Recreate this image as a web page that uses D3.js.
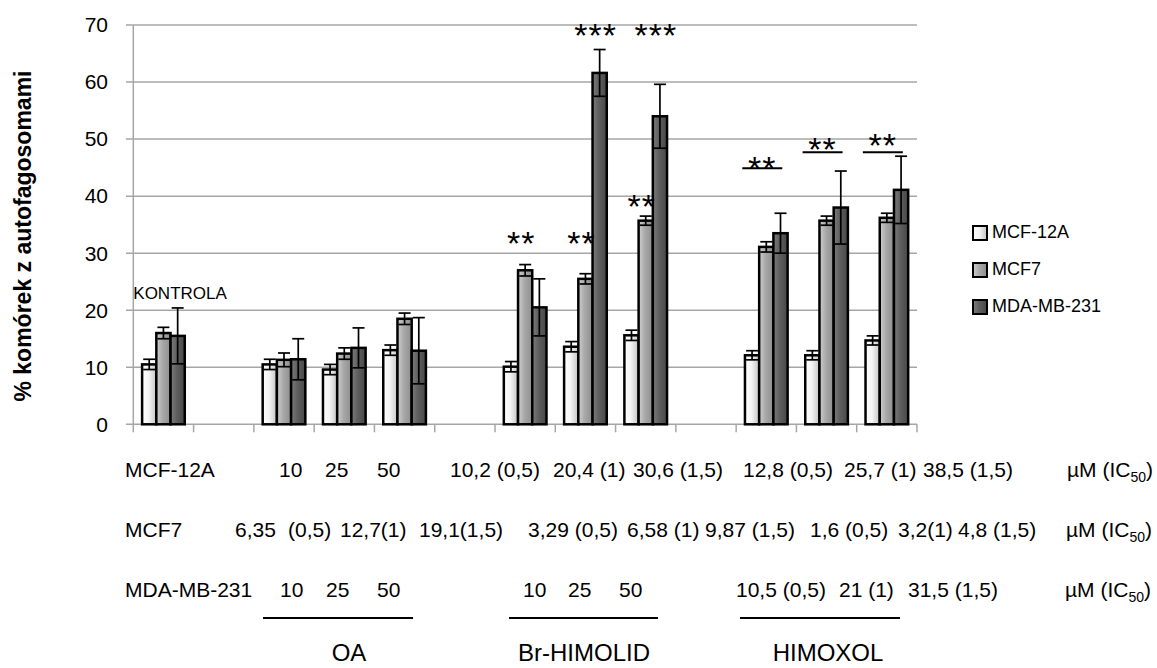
<!DOCTYPE html>
<meta charset="utf-8">
<style>
  body { margin: 0; background: #fff; }
  svg text { font-family: "Liberation Sans", Arial, sans-serif; fill: #000; }
  .grid line { stroke: #a6a6a6; stroke-width: 1.5px; }
  .axis line { stroke: #a6a6a6; stroke-width: 1.5px; }
  .bar { stroke: #000; stroke-width: 2.5px; }
  .err line { stroke: #000; stroke-width: 1.7px; }
  .sig { font-size: 34px; letter-spacing: 1px; }
  .tbl { font-size: 21px; }
</style>
<svg width="1157" height="668"></svg>
<script src="https://cdn.jsdelivr.net/npm/d3@7"></script>
<script>
  // categories along x: control, gap, OA doses, gap, Br-HIMOLID doses, gap, HIMOXOL doses
  var categories = ["K", "g1", "OA10", "OA25", "OA50", "g2", "Br05", "Br1", "Br15", "g3", "HX05", "HX1", "HX15"]
  var series = ["MCF-12A", "MCF7", "MDA-MB-231"]

  var mcf12a = [10.5, null, 10.5, 9.6, 13.0, null, 10.1, 13.6, 15.6, null, 12.1, 12.1, 14.7]
  var mcf12aErr = [0.9, null, 0.9, 0.9, 0.9, null, 0.9, 0.9, 0.9, null, 0.8, 0.8, 0.8]
  var mcf7 = [16.0, null, 11.3, 12.4, 18.5, null, 27.0, 25.5, 35.7, null, 31.1, 35.7, 36.2]
  var mcf7Err = [1.0, null, 1.2, 1.0, 1.0, null, 1.0, 0.9, 0.8, null, 0.9, 0.8, 0.8]
  var mda = [15.5, null, 11.4, 13.4, 12.9, null, 20.5, 61.6, 54.0, null, 33.5, 38.0, 41.1]
  var mdaErr = [4.9, null, 3.6, 3.5, 5.8, null, 5.0, 4.1, 5.6, null, 3.5, 6.4, 5.9]

  var yTicks = [0, 10, 20, 30, 40, 50, 60, 70]

  // significance marks
  var sigCat = ["Br05", "Br1", "Br1", "Br15", "Br15", "HX05", "HX1", "HX15"]
  var sigSeries = ["MCF7", "MCF7", "MDA-MB-231", "MCF7", "MDA-MB-231", null, null, null]
  var sigText = ["**", "**", "***", "**", "***", "**", "**", "**"]
  var sigLevel = [33.1, 33.1, 69.5, 39.5, 69.5, 46.2, 49.5, 50.2]
  var sigBar = [null, null, null, null, null, 44.9, 47.7, 47.7]

  // dose table under the chart
  var rowNames = ["MCF-12A", "MCF7", "MDA-MB-231"]
  var dosesMcf12a = ["10", "25", "50", "10,2 (0,5)", "20,4 (1)", "30,6 (1,5)", "12,8 (0,5)", "25,7 (1)", "38,5 (1,5)"]
  var dosesMcf7 = ["6,35", "(0,5)", "12,7(1)", "19,1(1,5)", "3,29 (0,5)", "6,58 (1)", "9,87 (1,5)", "1,6 (0,5)", "3,2(1)", "4,8 (1,5)"]
  var dosesMda = ["10", "25", "50", "10", "25", "50", "10,5 (0,5)", "21 (1)", "31,5 (1,5)"]
  var compounds = ["OA", "Br-HIMOLID", "HIMOXOL"]

  // table layout
  var rowY = [477, 537, 597]
  var xMcf12a = [279, 325, 377, 450, 553, 633, 743, 844, 923]
  var xMcf7 = [235, 288, 340, 419, 528, 627, 705, 810, 898, 958]
  var xMda = [280, 326, 377, 523, 568, 619, 736, 839, 908]
  var unitX = [1067, 1066, 1065]
  var compLine = [[263, 413], [509, 658], [740, 900]]
  var compX = [349, 584, 828]

  var svg = d3.select("svg")
  var defs = svg.append("defs")
  var fills = {
    "MCF-12A": ["#ffffff", "#f4f4f4", "#c4c4c4"],
    "MCF7": ["#cfcfcf", "#a8a8a8", "#8e8e8e"],
    "MDA-MB-231": ["#7c7c7c", "#5e5e5e", "#484848"]
  }
  series.forEach((s, i) => {
    var g = defs.append("linearGradient").attr("id", "grad" + i)
      .attr("x1", 0).attr("x2", 1).attr("y1", 0).attr("y2", 0)
    g.append("stop").attr("offset", "0%").attr("stop-color", fills[s][0])
    g.append("stop").attr("offset", "45%").attr("stop-color", fills[s][1])
    g.append("stop").attr("offset", "100%").attr("stop-color", fills[s][2])
  })

  var x = d3.scaleBand().domain(categories).range([133.3, 917])
  var xs = d3.scaleBand().domain(series).range([0, x.bandwidth()]).paddingOuter(0.62)
  var y = d3.scaleLinear().domain([0, 70]).range([424.3, 25])
  var color = d3.scaleOrdinal().domain(series).range(series.map((s, i) => "url(#grad" + i + ")"))

  // gridlines
  svg.append("g").attr("class", "grid")
    .selectAll("line").data(yTicks).enter().append("line")
    .attr("x1", 126).attr("x2", 917)
    .attr("y1", d => y(d)).attr("y2", d => y(d))

  // axes
  var ax = svg.append("g").attr("class", "axis")
  ax.append("line").attr("x1", 133.3).attr("x2", 133.3).attr("y1", y(70)).attr("y2", y(0) + 8)
  ax.selectAll(".xt").data(categories).enter().append("line")
    .attr("x1", d => x(d) + x.bandwidth()).attr("x2", d => x(d) + x.bandwidth())
    .attr("y1", y(0)).attr("y2", y(0) + 8)

  svg.append("g").selectAll("text").data(yTicks).enter().append("text")
    .attr("x", 108).attr("y", d => y(d)).attr("dy", "0.35em")
    .attr("text-anchor", "end").style("font-size", "21px")
    .text(d => d)

  svg.append("text")
    .attr("transform", "translate(23,236) rotate(-90)")
    .attr("text-anchor", "middle").attr("dy", "0.35em")
    .style("font-size", "23px").style("font-weight", "bold")
    .text("% komórek z autofagosomami")

  // bars
  var vals = [mcf12a, mcf7, mda]
  var errs = [mcf12aErr, mcf7Err, mdaErr]
  var rows = []
  categories.forEach((c, i) => series.forEach((s, j) => {
    if (vals[j][i] != null) rows.push({ c: c, s: s, v: vals[j][i], e: errs[j][i] })
  }))

  svg.append("g").selectAll("rect").data(rows).enter().append("rect")
    .attr("class", "bar")
    .attr("x", d => x(d.c) + xs(d.s))
    .attr("width", xs.bandwidth())
    .attr("y", d => y(d.v))
    .attr("height", d => y(0) - y(d.v))
    .style("fill", d => color(d.s))

  var err = svg.append("g").attr("class", "err").selectAll("g").data(rows).enter().append("g")
    .attr("transform", d => "translate(" + (x(d.c) + xs(d.s) + xs.bandwidth() / 2) + ",0)")
  err.append("line").attr("y1", d => y(d.v - d.e)).attr("y2", d => y(d.v + d.e))
  err.append("line").attr("x1", -6).attr("x2", 6).attr("y1", d => y(d.v + d.e)).attr("y2", d => y(d.v + d.e))
  err.append("line").attr("x1", -6).attr("x2", 6).attr("y1", d => y(d.v - d.e)).attr("y2", d => y(d.v - d.e))

  svg.append("text").attr("x", x(categories[0])).attr("y", 299)
    .style("font-size", "17px").text("KONTROLA")

  // significance
  sigText.forEach((t, i) => {
    var c = sigCat[i], cx
    if (sigSeries[i]) cx = x(c) + xs(sigSeries[i]) + xs.bandwidth() / 2 - 4
    else cx = x(c) + xs(series[0]) + 1.5 * xs.bandwidth() - 4
    svg.append("text").attr("class", "sig").attr("text-anchor", "middle")
      .attr("x", cx).attr("y", y(sigLevel[i]) + 19.5).text(t)
    if (sigBar[i] != null) {
      svg.append("line").attr("x1", cx - 20).attr("x2", cx + 20)
        .attr("y1", y(sigBar[i])).attr("y2", y(sigBar[i]))
        .style("stroke", "#000").style("stroke-width", 2)
    }
  })

  // legend
  var leg = svg.append("g").selectAll("g").data(series).enter().append("g")
    .attr("transform", (d, i) => "translate(973," + (226 + i * 37) + ")")
  leg.append("rect").attr("width", 14).attr("height", 14)
    .style("fill", d => color(d)).style("stroke", "#000").style("stroke-width", 2)
  leg.append("text").attr("x", 19).attr("y", 12).style("font-size", "18px").text(d => d)

  // dose table
  var tbl = svg.append("g").attr("class", "tbl")
  var rowDoses = [dosesMcf12a, dosesMcf7, dosesMda]
  var rowX = [xMcf12a, xMcf7, xMda]
  rowNames.forEach((name, r) => {
    tbl.append("text").attr("class", "tbl").attr("x", 125).attr("y", rowY[r]).text(name)
    rowDoses[r].forEach((t, k) => {
      tbl.append("text").attr("class", "tbl").attr("x", rowX[r][k]).attr("y", rowY[r]).text(t)
    })
    var u = tbl.append("text").attr("class", "tbl").attr("x", unitX[r]).attr("y", rowY[r])
    u.append("tspan").text("µM (IC")
    u.append("tspan").attr("dy", 5).style("font-size", "14px").text("50")
    u.append("tspan").attr("dy", -5).text(")")
  })

  compounds.forEach((c, i) => {
    svg.append("line").attr("x1", compLine[i][0]).attr("x2", compLine[i][1])
      .attr("y1", 618).attr("y2", 618).style("stroke", "#000").style("stroke-width", 2)
    svg.append("text").attr("x", compX[i]).attr("y", 661).attr("text-anchor", "middle")
      .style("font-size", "24px").text(c)
  })
</script>
